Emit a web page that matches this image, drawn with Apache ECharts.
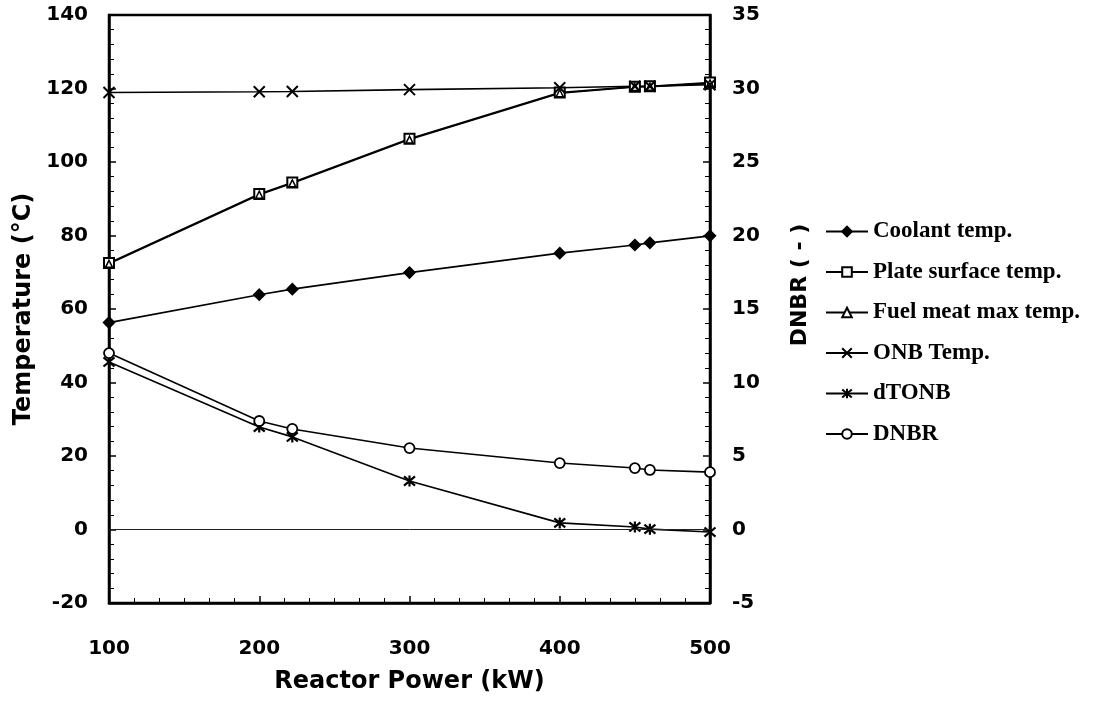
<!DOCTYPE html>
<html>
<head>
<meta charset="utf-8">
<script src="https://cdn.jsdelivr.net/npm/echarts@6/dist/echarts.min.js"></script>
<style>html,body{margin:0;padding:0;background:#fff}#c{width:1097px;height:706px}</style>
</head>
<body>
<div id="c"></div>
<script>
const power = [100, 200, 222, 300, 400, 450, 460, 500];
const coolant = [56.3, 63.9, 65.4, 69.9, 75.2, 77.4, 78.0, 79.9];
const plate = [72.5, 91.3, 94.4, 106.3, 118.9, 120.5, 120.6, 121.6];
const fuel = [72.3, 91.1, 94.2, 106.1, 118.7, 120.4, 120.5, 121.4];
const onb = [118.9, 119.1, 119.2, 119.7, 120.2, 120.6, 120.6, 121.0];
const dtonb = [45.6, 27.9, 25.2, 13.2, 1.8, 0.7, 0.1, -0.7];
const dnbr = [12.0, 7.38, 6.84, 5.54, 4.52, 4.18, 4.05, 3.9];

const seriesNames = ['Coolant temp.', 'Plate surface temp.', 'Fuel meat max temp.', 'ONB Temp.', 'dTONB', 'DNBR'];

const pair = arr => power.map((p, i) => [p, arr[i]]);
const crossPath = 'path://M0,0L10,10M10,0L0,10';
const starPath = 'path://M0,0L10,10M10,0L0,10M5,-1L5,11';

const base = {
  type: 'line',
  lineStyle: { color: '#000', width: 1.6 },
  itemStyle: { color: '#000', borderColor: '#000', borderWidth: 1.5 },
  animation: false
};

const chart = echarts.init(document.getElementById('c'), null, { renderer: 'canvas' });
const axisFont = { fontFamily: 'DejaVu Sans', fontWeight: 'bold', fontSize: 20, color: '#000' };
const titleFont = { fontFamily: 'DejaVu Sans', fontWeight: 'bold', fontSize: 24, color: '#000' };

chart.setOption({
  backgroundColor: '#fff',
  animation: false,
  grid: { left: 109, right: 387, top: 15, bottom: 103, show: true, borderColor: '#000', borderWidth: 2.5, backgroundColor: 'transparent' },
  legend: {
    orient: 'vertical',
    left: 820,
    top: 215,
    itemWidth: 42,
    itemHeight: 12,
    itemGap: 17.5,
    data: seriesNames,
    textStyle: { fontFamily: 'Liberation Serif', fontWeight: 'bold', fontSize: 23, color: '#000' }
  },
  xAxis: {
    type: 'value', min: 100, max: 500, interval: 100,
    axisLine: { onZero: false, lineStyle: { color: '#000', width: 2.5 } },
    axisTick: { inside: true, length: 7, lineStyle: { color: '#000', width: 1.5 } },
    minorTick: { show: true, splitNumber: 6, length: 5, lineStyle: { color: '#000' } },
    splitLine: { show: false },
    axisLabel: Object.assign({ margin: 36 }, axisFont),
    name: 'Reactor Power (kW)', nameLocation: 'middle', nameGap: 67, nameMoveOverlap: false,
    nameTextStyle: titleFont
  },
  yAxis: [
    {
      type: 'value', min: -20, max: 140, interval: 20, position: 'left',
      axisLine: { show: true, onZero: false, lineStyle: { color: '#000', width: 2.5 } },
      axisTick: { show: true, inside: true, length: 7, lineStyle: { color: '#000', width: 1.5 } },
      minorTick: { show: true, splitNumber: 5, length: 5, lineStyle: { color: '#000' } },
      splitLine: { show: false },
      axisLabel: Object.assign({ margin: 21 }, axisFont),
      name: 'Temperature (°C)', nameLocation: 'middle', nameGap: 73, nameRotate: 90, nameMoveOverlap: false,
      nameTextStyle: titleFont
    },
    {
      type: 'value', min: -5, max: 35, interval: 5, position: 'right',
      axisLine: { show: true, onZero: false, lineStyle: { color: '#000', width: 2.5 } },
      axisTick: { show: true, inside: true, length: 7, lineStyle: { color: '#000', width: 1.5 } },
      minorTick: { show: true, splitNumber: 5, length: 5, lineStyle: { color: '#000' } },
      splitLine: { show: false },
      axisLabel: Object.assign({ margin: 22 }, axisFont),
      name: 'DNBR ( - )', nameLocation: 'middle', nameGap: 79, nameRotate: 90, nameMoveOverlap: false,
      nameTextStyle: Object.assign({}, axisFont, { fontSize: 22, padding: [0, 0, 0, 48] })
    }
  ],
  series: [
    Object.assign({}, base, { name: seriesNames[0], data: pair(coolant), symbol: 'diamond', symbolSize: 11 }),
    Object.assign({}, base, { name: seriesNames[1], data: pair(plate), symbol: 'rect', symbolSize: 10,
      itemStyle: { color: '#fff', borderColor: '#000', borderWidth: 2 } }),
    Object.assign({}, base, { name: seriesNames[2], data: pair(fuel), symbol: 'triangle', symbolSize: 7,
      itemStyle: { color: '#fff', borderColor: '#000', borderWidth: 1.5 } }),
    Object.assign({}, base, { name: seriesNames[3], data: pair(onb), symbol: crossPath, symbolSize: 11,
      itemStyle: { color: 'none', borderColor: '#000', borderWidth: 2 } }),
    Object.assign({}, base, { name: seriesNames[4], data: pair(dtonb), symbol: starPath, symbolSize: 11,
      itemStyle: { color: 'none', borderColor: '#000', borderWidth: 2.2 },
      markLine: { silent: true, symbol: 'none', label: { show: false },
        lineStyle: { color: '#222', width: 1, type: 'solid' }, data: [{ yAxis: 0 }] } }),
    Object.assign({}, base, { name: seriesNames[5], data: pair(dnbr), yAxisIndex: 1, symbol: 'circle', symbolSize: 10,
      itemStyle: { color: '#fff', borderColor: '#000', borderWidth: 1.8 } })
  ]
});
</script>
</body>
</html>
